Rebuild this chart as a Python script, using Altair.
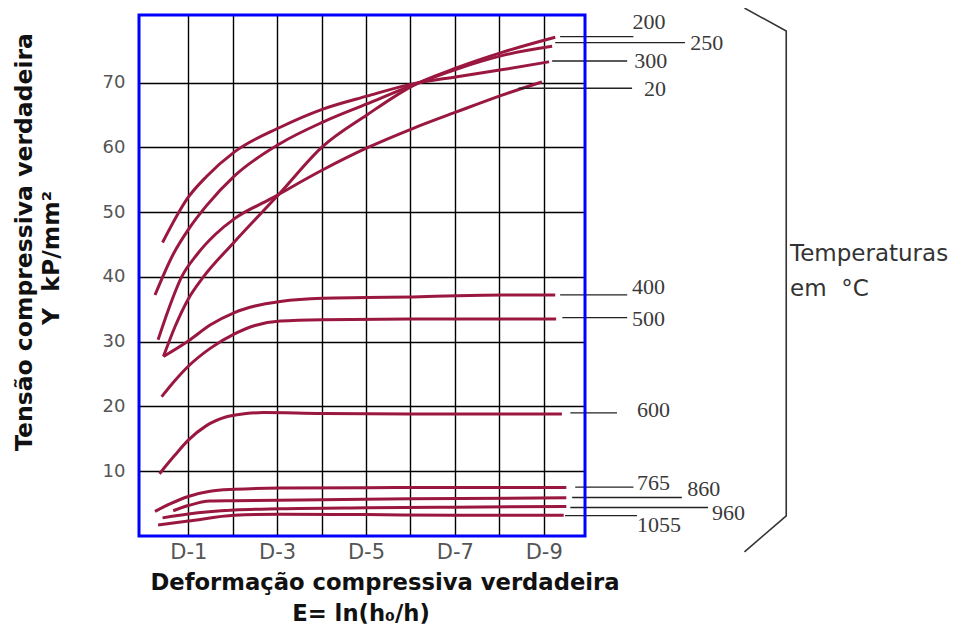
import altair as alt
import pandas as pd

# ---------------- data ----------------
# strain axis in grid units (grid line k is labelled "D-k"); stress in kP/mm2
T20_x = [0.32, 0.55, 0.85, 1.2, 1.6, 2.04, 2.84, 4.02, 5.02, 6.05, 7.05, 8.08, 8.96]
T20_y = [30.3, 34.9, 40.0, 43.5, 46.5, 49.0, 52.0, 56.5, 59.9, 62.9, 65.5, 68.1, 70.1]

T200_x = [0.44, 0.7, 1.0, 1.34, 2.01, 3.06, 4.02, 5.02, 6.05, 7.05, 8.08, 9.26]
T200_y = [27.7, 32.3, 36.6, 40.0, 45.2, 52.9, 60.1, 65.0, 69.5, 72.3, 74.7, 77.0]

T250_x = [0.25, 0.66, 1.0, 1.41, 2.04, 3.07, 4.03, 5.02, 6.05, 7.05, 8.08, 9.19]
T250_y = [37.2, 43.5, 47.3, 51.0, 55.6, 60.6, 63.9, 66.7, 69.6, 72.1, 74.2, 75.6]

T300_x = [0.42, 1.0, 1.41, 2.04, 3.07, 4.03, 5.02, 6.05, 7.05, 8.08, 9.12]
T300_y = [45.3, 52.3, 55.5, 59.3, 63.1, 65.9, 67.9, 69.8, 70.9, 72.0, 73.2]

T400_x = [0.44, 1.0, 1.5, 2.04, 2.5, 3.07, 4.02, 5.02, 6.05, 7.05, 8.08, 9.26]
T400_y = [27.7, 30.1, 32.6, 34.5, 35.5, 36.2, 36.7, 36.8, 36.9, 37.1, 37.2, 37.2]

T500_x = [0.40, 0.7, 1.0, 1.5, 2.04, 2.5, 3.07, 4.02, 6.0, 9.28]
T500_y = [21.5, 24.0, 26.2, 29.0, 31.2, 32.5, 33.2, 33.4, 33.5, 33.5]

T600_x = [0.35, 0.7, 1.0, 1.4, 1.86, 2.3, 2.69, 4.02, 6.0, 9.41]
T600_y = [9.6, 12.5, 14.8, 17.0, 18.4, 18.9, 19.05, 18.9, 18.85, 18.85]

T765_x = [0.25, 0.6, 1.0, 1.49, 2.04, 3.07, 5.0, 7.0, 9.51]
T765_y = [3.8, 5.0, 6.1, 6.9, 7.2, 7.4, 7.45, 7.5, 7.5]

T860_x = [0.66, 1.0, 1.49, 2.04, 4.03, 6.0, 9.51]
T860_y = [3.9, 4.7, 5.4, 5.45, 5.6, 5.75, 5.9]

T960_x = [0.42, 1.0, 2.04, 3.07, 5.0, 7.0, 9.51]
T960_y = [2.8, 3.4, 4.0, 4.2, 4.35, 4.45, 4.55]

T1055_x = [0.32, 1.0, 2.04, 3.07, 5.0, 7.0, 9.45]
T1055_y = [1.7, 2.3, 3.2, 3.35, 3.3, 3.2, 3.2]

curve_names = ["20", "200", "250", "300", "400", "500", "600", "765", "860", "960", "1055"]
curve_xs = [T20_x, T200_x, T250_x, T300_x, T400_x, T500_x, T600_x, T765_x, T860_x, T960_x, T1055_x]
curve_ys = [T20_y, T200_y, T250_y, T300_y, T400_y, T500_y, T600_y, T765_y, T860_y, T960_y, T1055_y]

# curve labels (temperature in degC) with leader lines
label_text = ["200", "250", "300", "20", "400", "500", "600", "765", "860", "960", "1055"]
label_x = [11.0, 12.3, 11.04, 11.26, 10.99, 10.99, 11.1, 11.1, 12.23, 12.79, 11.1]
label_y = [79.3, 76.1, 73.3, 69.0, 38.5, 33.5, 19.5, 8.2, 7.3, 3.6, 1.7]
leader_y = [77.08, 76.16, 73.33, 69.12, 37.22, 33.72, 19.01, 7.55, 5.94, 4.40, 3.16]
leader_x1 = [9.37, 9.26, 9.19, 8.43, 9.37, 9.42, 9.60, 9.71, 9.64, 9.60, 9.48]
leader_x2 = [11.02, 12.18, 10.88, 10.99, 10.88, 10.88, 10.65, 11.02, 12.11, 12.70, 11.10]

# bracket grouping the temperatures
bracket_x = [13.52, 14.46, 14.46, 13.52]
bracket_y = [81.5, 77.96, 3.12, -2.44]

x_ticks = [1, 2, 3, 4, 5, 6, 7, 8, 9]
y_ticks = [10, 20, 30, 40, 50, 60, 70]

# ---------------- tables ----------------
rows = []
for n, xs_, ys_ in zip(curve_names, curve_xs, curve_ys):
    for a, b in zip(xs_, ys_):
        rows.append({"temp": n, "e": a, "y": b})
curves_df = pd.DataFrame(rows)

labels_df = pd.DataFrame({"text": label_text, "e": label_x, "y": label_y,
                          "ly": leader_y, "lx1": leader_x1, "lx2": leader_x2})
bracket_df = pd.DataFrame({"k": list(range(len(bracket_x))), "e": bracket_x, "y": bracket_y})

CURVE = "#9a1840"
SANS = "DejaVu Sans"
SERIF = "Liberation Serif"

xs = alt.Scale(domain=[-0.11, 9.93], nice=False, zero=False)
ys = alt.Scale(domain=[0, 80.43], nice=False, zero=False)

x_axis = alt.Axis(values=x_ticks, labelExpr="datum.value % 2 == 1 ? 'D-' + datum.value : ''",
                  ticks=False, tickSize=0, domain=False, grid=True, gridColor="#000000",
                  gridWidth=1.4, gridOpacity=1, labelFont=SANS, labelFontSize=21,
                  labelColor="#555555", labelPadding=5, title=None)
y_axis = alt.Axis(values=y_ticks, ticks=False, tickSize=0, domain=False, grid=True,
                  gridColor="#000000", gridWidth=1.4, gridOpacity=1, labelFont=SANS,
                  labelFontSize=18, labelColor="#555555", labelPadding=14, title=None)

curves = alt.Chart(curves_df).mark_line(interpolate="monotone", strokeWidth=3, color=CURVE).encode(
    x=alt.X("e:Q", scale=xs, axis=x_axis),
    y=alt.Y("y:Q", scale=ys, axis=y_axis),
    detail="temp:N",
)

leaders = alt.Chart(labels_df).mark_rule(color="#222222", strokeWidth=1.3).encode(
    x=alt.X("lx1:Q", scale=xs), x2="lx2:Q", y=alt.Y("ly:Q", scale=ys))

labels = alt.Chart(labels_df).mark_text(align="left", baseline="middle", font=SERIF,
                                        fontSize=22, color="#3a3a3a").encode(
    x=alt.X("e:Q", scale=xs), y=alt.Y("y:Q", scale=ys), text="text:N")

bracket = alt.Chart(bracket_df).mark_line(color="#333333", strokeWidth=1.6).encode(
    x=alt.X("e:Q", scale=xs), y=alt.Y("y:Q", scale=ys), order="k:Q")

one = alt.Data(values=[{}])
frame = alt.Chart(one).mark_rect(filled=False, stroke="#0000ff", strokeWidth=3).encode(
    x=alt.value(0), x2=alt.value("width"), y=alt.value(0), y2=alt.value("height"))


def txt(s, px, py, size, weight="normal", angle=0, align="center", color="#111111"):
    kw = dict(align=align, baseline="middle", font=SANS, fontSize=size, fontWeight=weight, color=color)
    if angle:
        kw["angle"] = angle
    return alt.Chart(one).mark_text(**kw).encode(x=alt.value(px), y=alt.value(py), text=alt.value(s))


NB = "\u00a0"
titles = [
    txt("Deformação compressiva verdadeira", 246, 568, 22.7, "bold"),
    txt("E= ln(h₀/h)", 222, 599, 22.7, "bold"),
    txt("Tensão compressiva verdadeira", -114, 227, 23.5, "bold", angle=270),
    txt("Y" + NB + NB + "kP/mm²", -87, 243, 23.5, "bold", angle=270),
    txt("Temperaturas", 651, 239, 23, align="left", color="#333333"),
    txt("em" + NB + NB + "°C", 651, 274, 23, align="left", color="#333333"),
]

chart = alt.layer(curves, leaders, labels, bracket, *titles, frame).properties(
    width=446, height=521,
    padding={"left": 131, "top": 7, "right": 366, "bottom": 91},
    autosize=alt.AutoSizeParams(type="none"),
).configure_view(stroke=None)

chart.save("out.html", embed_options={"renderer": "svg", "actions": False})
